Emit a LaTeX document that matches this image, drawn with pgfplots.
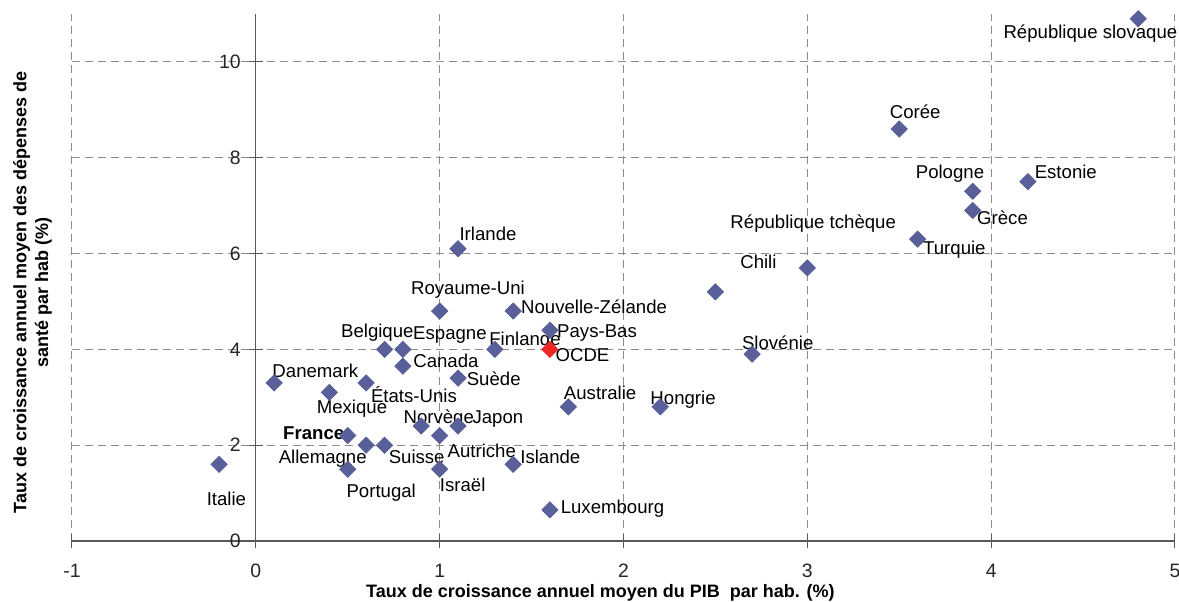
\documentclass[border=0pt]{standalone}
\usepackage{fontspec}
\setmainfont{Liberation Sans}
\usepackage{pgfplots}
\pgfplotsset{compat=1.18}
\definecolor{pt}{RGB}{89,96,153}
\definecolor{oc}{RGB}{237,40,36}
\definecolor{gr}{RGB}{140,140,140}
\definecolor{ax}{RGB}{90,90,90}
\definecolor{tx}{RGB}{38,38,38}
\pgfplotstableread{
x y
-0.2 1.6
0.1 3.3
0.4 3.1
0.6 3.3
0.5 2.2
0.6 2.0
0.7 2.0
0.5 1.5
0.7 4.0
0.8 4.0
0.8 3.65
1.0 4.8
1.4 4.8
1.3 4.0
1.6 4.4
1.1 3.4
0.9 2.4
1.0 2.2
1.1 2.4
1.0 1.5
1.4 1.6
1.6 0.65
1.7 2.8
2.2 2.8
2.7 3.9
1.1 6.1
2.5 5.2
3.0 5.7
3.6 6.3
3.9 6.9
3.9 7.3
4.2 7.5
3.5 8.6
4.8 10.9
}\pays
\pgfplotstableread{
x y
1.6 4.0
}\ocde
\begin{document}
\begin{tikzpicture}[font=\fontsize{9.3}{11}\selectfont]
\useasboundingbox (-36pt,-30pt) rectangle (553.5pt,270.5pt);
\begin{axis}[
  scale only axis, width=551.5pt, height=263.5pt,
  xmin=-1, xmax=5, ymin=0, ymax=11,
  axis x line=bottom, axis y line=middle,
  hide obscured x ticks=false, hide obscured y ticks=false,
  axis line style={-, color=ax, line width=0.6pt},
  xtick={-1,0,1,2,3,4,5}, xticklabels={-1,0,1,2,3,4,5},
  ytick={0,2,4,6,8,10}, yticklabels={0,2,4,6,8,10},
  tick align=center, major tick length=7pt,
  tick style={color=ax, line width=0.5pt},
  grid=major,
  major grid style={color=gr, dash pattern=on 4pt off 2.5pt, line width=0.5pt},
  ticklabel style={text=tx, font=\fontsize{9.7}{11}\selectfont},
  xticklabel style={yshift=-4.5pt},
  yticklabel style={xshift=-0.5pt},
  clip=false,
  every node/.append style={text=tx},
]
\addplot[only marks, mark=square*, mark size=2.85pt,
  mark options={rotate=45, fill=pt, draw=pt}] table {\pays};
\addplot[only marks, mark=square*, mark size=2.85pt,
  mark options={rotate=45, fill=oc, draw=oc}] table {\ocde};

\tikzset{lab/.style={anchor=center, inner sep=0pt, text height=0.72em, text depth=0pt}}
\node[lab] at (axis cs:1.154,5.297) {Royaume-Uni};
\node[lab] at (axis cs:1.840,4.906) {Nouvelle-Zélande};
\node[lab] at (axis cs:0.661,4.390) {Belgique};
\node[lab] at (axis cs:1.056,4.349) {Espagne};
\node[lab] at (axis cs:1.464,4.232) {Finlande};
\node[lab] at (axis cs:1.856,4.390) {Pays-Bas};
\node[lab] at (axis cs:1.777,3.904) {OCDE};
\node[lab] at (axis cs:1.034,3.779) {Canada};
\node[lab] at (axis cs:0.324,3.555) {Danemark};
\node[lab] at (axis cs:1.294,3.397) {Suède};
\node[lab] at (axis cs:0.860,3.048) {États-Unis};
\node[lab] at (axis cs:1.873,3.104) {Australie};
\node[lab] at (axis cs:2.324,3.006) {Hongrie};
\node[lab] at (axis cs:0.523,2.804) {Mexique};
\node[lab] at (axis cs:0.995,2.610) {Norvège};
\node[lab] at (axis cs:1.317,2.610) {Japon};
\node[lab] at (axis cs:0.315,2.261) {\bfseries France};
\node[lab] at (axis cs:0.364,1.775) {Allemagne};
\node[lab] at (axis cs:0.875,1.775) {Suisse};
\node[lab] at (axis cs:1.229,1.885) {Autriche};
\node[lab] at (axis cs:1.602,1.775) {Islande};
\node[lab] at (axis cs:0.682,1.050) {Portugal};
\node[lab] at (axis cs:1.125,1.190) {Israël};
\node[lab] at (axis cs:-0.160,0.891) {Italie};
\node[lab] at (axis cs:1.940,0.716) {Luxembourg};
\node[lab] at (axis cs:4.540,10.633) {République slovaque};
\node[lab] at (axis cs:3.587,8.963) {Corée};
\node[lab] at (axis cs:3.776,7.710) {Pologne};
\node[lab] at (axis cs:4.406,7.710) {Estonie};
\node[lab] at (axis cs:4.062,6.749) {Grèce};
\node[lab] at (axis cs:3.032,6.666) {République tchèque};
\node[lab] at (axis cs:3.800,6.123) {Turquie};
\node[lab] at (axis cs:2.734,5.831) {Chili};
\node[lab] at (axis cs:1.263,6.430) {Irlande};
\node[lab] at (axis cs:2.839,4.154) {Slovénie};

\node[rotate=90, align=center, font=\bfseries\fontsize{9}{10.8}\selectfont]
  at ([xshift=-19.75pt]rel axis cs:0,0.472)
  {Taux de croissance annuel moyen des dépenses de\\santé par hab (\%)};
\node[font=\bfseries\fontsize{9}{10.8}\selectfont]
  at ([yshift=-26pt]rel axis cs:0.479,0)
  {Taux de croissance annuel moyen du PIB\ \ par hab. (\%)};
\end{axis}
\end{tikzpicture}
\end{document}
